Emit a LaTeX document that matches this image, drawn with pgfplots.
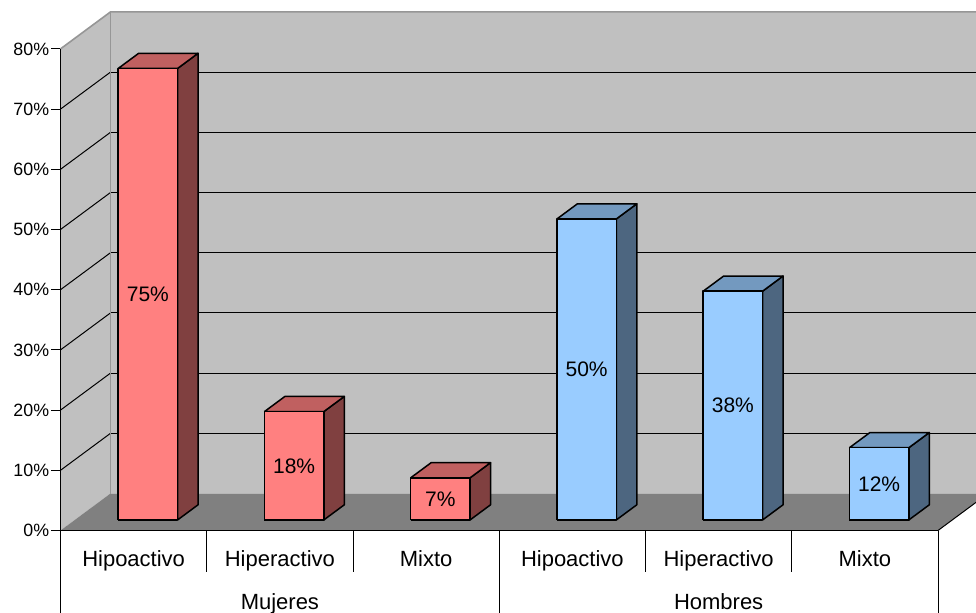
\documentclass[border=0pt]{standalone}
\usepackage{pgfplots}
\pgfplotsset{compat=1.18}
\usepackage{fontspec}
\setmainfont{Liberation Sans}
\definecolor{redF}{HTML}{FF8080}
\definecolor{redT}{HTML}{C06060}
\definecolor{redS}{HTML}{804040}
\definecolor{bluF}{HTML}{99CCFF}
\definecolor{bluT}{HTML}{7399BF}
\definecolor{bluS}{HTML}{4D6680}
\definecolor{wall}{HTML}{C0C0C0}
\definecolor{floorc}{HTML}{808080}
\definecolor{edgec}{HTML}{969696}
% x0, x1, value, front, top, side
\newcommand{\cuboid}[6]{%
  \addplot3[fill=#6,draw=black,line width=0.75pt,line join=round] coordinates {(#2,0.285,0) (#2,0.695,0) (#2,0.695,#3) (#2,0.285,#3) (#2,0.285,0)};
  \addplot3[fill=#5,draw=black,line width=0.75pt,line join=round] coordinates {(#1,0.285,#3) (#2,0.285,#3) (#2,0.695,#3) (#1,0.695,#3) (#1,0.285,#3)};
  \addplot3[fill=#4,draw=black,line width=0.75pt,line join=round] coordinates {(#1,0.285,0) (#2,0.285,0) (#2,0.285,#3) (#1,0.285,#3) (#1,0.285,0)};
}
\begin{document}
\begin{tikzpicture}
\useasboundingbox (-30.25pt,-40.75pt) rectangle (457.75pt,265.25pt);
\clip (-30.25pt,-40.75pt) rectangle (457.75pt,265.25pt);
\fill[white] (-30.25pt,-40.75pt) rectangle (457.75pt,265.25pt);
\begin{axis}[
  at={(0,0)}, anchor=origin,
  x={(73.125pt,0pt)}, y={(25pt,18.5pt)}, z={(0pt,3.01pt)},
  xmin=0, xmax=6, ymin=0, ymax=1, zmin=0, zmax=80,
  hide axis, clip=false, no markers,
]
% walls and floor
\addplot3[fill=wall,draw=none] coordinates {(0,1,0) (6,1,0) (6,1,80) (0,1,80) (0,1,0)};
\addplot3[fill=wall,draw=none] coordinates {(0,0,0) (0,1,0) (0,1,80) (0,0,80) (0,0,0)};
\addplot3[fill=floorc,draw=none] coordinates {(0,0,0) (6,0,0) (6,1,0) (0,1,0) (0,0,0)};
% grid
\pgfplotsinvokeforeach{10,20,30,40,50,60,70}{
  \draw[black,line width=0.5pt] (axis cs:0,1,#1) -- (axis cs:6,1,#1);
  \draw[black,line width=0.5pt] (axis cs:0,0,#1) -- (axis cs:0,1,#1);
}
\draw[edgec,line width=0.8pt] (axis cs:0,0,80) -- (axis cs:0,1,80) -- (axis cs:6,1,80);
\draw[edgec,line width=0.8pt] (axis cs:0,1,0) -- (axis cs:0,1,80);
\draw[black,line width=0.5pt] (axis cs:6,0,0) -- (axis cs:6,1,0);
% bars: Mujeres
\cuboid{0.297}{0.703}{75}{redF}{redT}{redS}
\cuboid{1.297}{1.703}{18}{redF}{redT}{redS}
\cuboid{2.297}{2.703}{7}{redF}{redT}{redS}
% bars: Hombres
\cuboid{3.297}{3.703}{50}{bluF}{bluT}{bluS}
\cuboid{4.297}{4.703}{38}{bluF}{bluT}{bluS}
\cuboid{5.297}{5.703}{12}{bluF}{bluT}{bluS}
% data labels
\begin{scope}[every node/.style={font=\fontsize{10.5}{12}\selectfont,inner sep=0pt}]
\node at (axis cs:0.5,0.285,37.5) {75\%};
\node at (axis cs:1.5,0.285,9) {18\%};
\node at (axis cs:2.5,0.285,3.5) {7\%};
\node at (axis cs:3.5,0.285,25) {50\%};
\node at (axis cs:4.5,0.285,19) {38\%};
\node at (axis cs:5.5,0.285,6) {12\%};
\end{scope}
\end{axis}
\begin{axis}[
  at={(0,0)}, anchor=origin,
  x={(73.125pt,0pt)}, y={(0pt,3.01pt)},
  xmin=0, xmax=6, ymin=0, ymax=80,
  axis x line*=bottom, axis y line*=left,
  axis line style={black,line width=0.5pt},
  xtick=\empty,
  ytick={0,10,20,30,40,50,60,70,80},
  yticklabels={0\%,10\%,20\%,30\%,40\%,50\%,60\%,70\%,80\%},
  tick align=outside, major tick length=4.5pt,
  tick style={black,line width=0.5pt},
  yticklabel style={font=\fontsize{8.9}{10}\selectfont,inner sep=1pt},
  clip=false,
]
\pgfplotsinvokeforeach{1,2,4,5}{
  \draw[black,line width=0.5pt] (axis cs:#1,0) -- ++(0,-20.5pt);
}
\pgfplotsinvokeforeach{0,3,6}{
  \draw[black,line width=0.5pt] (axis cs:#1,0) -- ++(0,-45pt);
}
\begin{scope}[every node/.style={font=\fontsize{11}{13}\selectfont,inner sep=0pt,anchor=base}]
\node at ([yshift=-17.75pt]axis cs:0.5,0) {Hipoactivo};
\node at ([yshift=-17.75pt]axis cs:1.5,0) {Hiperactivo};
\node at ([yshift=-17.75pt]axis cs:2.5,0) {Mixto};
\node at ([yshift=-17.75pt]axis cs:3.5,0) {Hipoactivo};
\node at ([yshift=-17.75pt]axis cs:4.5,0) {Hiperactivo};
\node at ([yshift=-17.75pt]axis cs:5.5,0) {Mixto};
\node at ([yshift=-39.25pt]axis cs:1.5,0) {Mujeres};
\node at ([yshift=-39.25pt]axis cs:4.5,0) {Hombres};
\end{scope}
\end{axis}
\end{tikzpicture}
\end{document}
